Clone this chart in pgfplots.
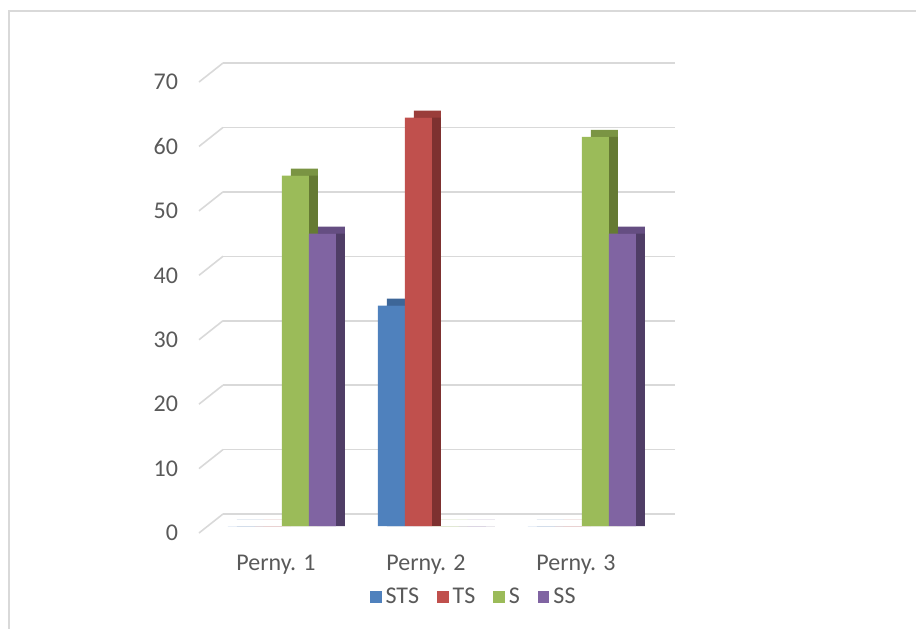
\documentclass[border=0pt]{standalone}
\usepackage{pgfplots}
\pgfplotsset{compat=1.18}
\usepackage{fontspec}
\setmainfont{Carlito}
\definecolor{cblue}{HTML}{4F81BD}
\definecolor{cred}{HTML}{C0504D}
\definecolor{cgreen}{HTML}{9BBB59}
\definecolor{cpurple}{HTML}{8064A2}
\definecolor{tblue}{HTML}{3D6698}
\definecolor{tred}{HTML}{9A3D3A}
\definecolor{tgreen}{HTML}{7A9443}
\definecolor{tpurple}{HTML}{654E82}
\definecolor{sblue}{HTML}{385D8A}
\definecolor{sred}{HTML}{7E3130}
\definecolor{sgreen}{HTML}{657A33}
\definecolor{spurple}{HTML}{4F3D66}
\definecolor{gridgray}{HTML}{D9D9D9}
\definecolor{framegray}{HTML}{D9D9D9}
\definecolor{txt}{HTML}{595959}
\pgfplotstableread{
x STS TS S SS
0 0 0 54.4 45.4
1 34.2 63.4 0 0
2 0 0 60.4 45.4
}\datatable
\begin{document}
\begin{tikzpicture}
\useasboundingbox (0,0) rectangle (458pt,314pt);
\draw[framegray, line width=0.9pt] (4.5pt,-10pt) |- (470pt,308.5pt);
\begin{axis}[
  at={(111.5pt,51pt)}, anchor=south west,
  scale only axis, width=226pt, height=225.5pt,
  xmin=-0.393, xmax=2.62, ymin=0, ymax=70,
  ytick={0,10,...,70}, xtick={0,1,2},
  xticklabels={Perny. 1, Perny. 2, Perny. 3},
  axis line style={draw=none}, tick style={draw=none},
  ymajorgrids, grid style={gridgray, line width=0.8pt, yshift=6pt},
  ybar=0pt, bar width=13.5pt,
  clip=false,
  font=\fontsize{12}{14}\selectfont,
  /pgf/number format/assume math mode=true,
  ticklabel style={text=txt, font=\fontsize{12}{14}\selectfont},
  yticklabel style={anchor=east, xshift=-19pt, yshift=-3.5pt},
  xticklabel style={anchor=center, yshift=-15pt, xshift=-3pt},
  legend columns=4,
  legend style={draw=none, at={(0.557,-0.157)}, anchor=center,
    font=\fontsize{12}{14}\selectfont, text=txt,
    /tikz/every even column/.append style={column sep=7pt}},
  legend image code/.code={\fill[#1] (0pt,-2.9pt) rectangle (5.8pt,2.9pt);},
  b1/.style={bar shift=-20.25pt},
  b2/.style={bar shift=-6.75pt},
  b3/.style={bar shift=6.75pt},
  b4/.style={bar shift=20.25pt},
  after end axis/.code={
    \foreach \yy in {0,0.142857,0.285714,0.428571,0.571429,0.714286,0.857143,1}{
      \draw[gridgray, line width=0.8pt] (axis description cs:0,\yy) ++(0,6pt) -- ++(-12pt,-9.5pt);
    }
  },
]
% top faces
\addplot[b1, fill=tblue, draw=none, xshift=4.5pt, yshift=3.5pt, forget plot] table[x=x,y=STS]{\datatable};
\addplot[b2, fill=tred, draw=none, xshift=4.5pt, yshift=3.5pt, forget plot] table[x=x,y=TS]{\datatable};
\addplot[b3, fill=tgreen, draw=none, xshift=4.5pt, yshift=3.5pt, forget plot] table[x=x,y=S]{\datatable};
\addplot[b4, fill=tpurple, draw=none, xshift=4.5pt, yshift=3.5pt, forget plot] table[x=x,y=SS]{\datatable};
% side faces
\addplot[b1, fill=sblue, draw=none, xshift=4.5pt, forget plot] table[x=x,y=STS]{\datatable};
\addplot[b2, fill=sred, draw=none, xshift=4.5pt, forget plot] table[x=x,y=TS]{\datatable};
\addplot[b3, fill=sgreen, draw=none, xshift=4.5pt, forget plot] table[x=x,y=S]{\datatable};
\addplot[b4, fill=spurple, draw=none, xshift=4.5pt, forget plot] table[x=x,y=SS]{\datatable};
% front faces
\addplot[b1, fill=cblue, draw=none] table[x=x,y=STS]{\datatable};
\addplot[b2, fill=cred, draw=none] table[x=x,y=TS]{\datatable};
\addplot[b3, fill=cgreen, draw=none] table[x=x,y=S]{\datatable};
\addplot[b4, fill=cpurple, draw=none] table[x=x,y=SS]{\datatable};
\legend{STS, TS, S, SS}
\end{axis}
\end{tikzpicture}
\end{document}
